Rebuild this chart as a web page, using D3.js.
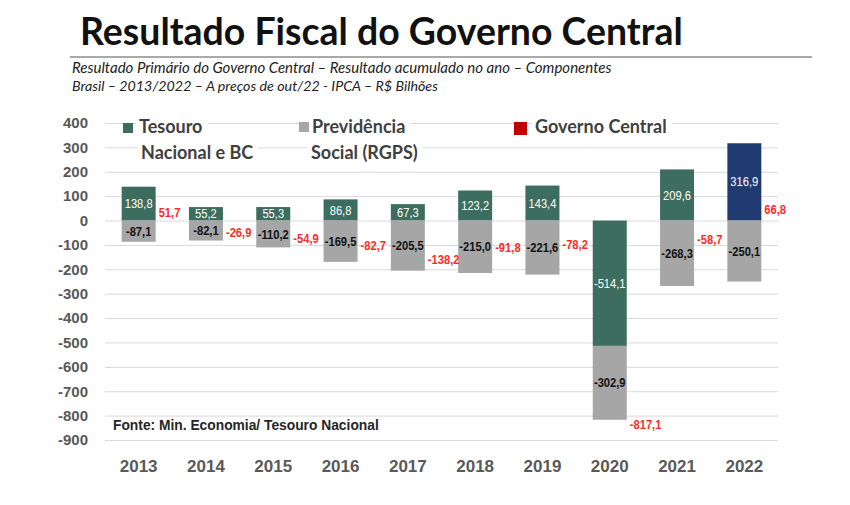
<!DOCTYPE html>
<html><head><meta charset="utf-8">
<script src="https://cdn.jsdelivr.net/npm/d3@7"></script>
<style>body{margin:0;background:#fff} svg{display:block}</style>
</head><body><svg id="chart" width="850" height="505"></svg>
<script>
// ---------- DATA ----------
const years = ["2013","2014","2015","2016","2017","2018","2019","2020","2021","2022"];
const tesouro = [138.8, 55.2, 55.3, 86.8, 67.3, 123.2, 143.4, -514.1, 209.6, 316.9];
const previdencia = [-87.1, -82.1, -110.2, -169.5, -205.5, -215.0, -221.6, -302.9, -268.3, -250.1];
const governoCentral = [51.7, -26.9, -54.9, -82.7, -138.2, -91.8, -78.2, -817.1, -58.7, 66.8];
const yTicks = [400, 300, 200, 100, 0, -100, -200, -300, -400, -500, -600, -700, -800, -900];
const seriesKeys = ["tesouro", "previdencia"];
const titleText = "Resultado Fiscal do Governo Central";
const subtitleLines = ["Resultado Primário do Governo Central –  Resultado acumulado no ano – Componentes",
                       "Brasil – 2013/2022 – A preços de out/22 - IPCA – R$ Bilhões"];
const sourceText = "Fonte: Min. Economia/ Tesouro Nacional";
const highlightYear = "2022";

// ---------- SETUP ----------
const svg = d3.select("#chart");
const pLeft = 105, pRight = 778, pTop = 123, pBottom = 440;
const C = { green: "#3d6d5e", navy: "#1f3b72", gray: "#a6a6a6", red: "#c00000", label: "#ff2b2b", axis: "#595959", grid: "#d9d9d9" };
const sans = "'Liberation Sans',Arial,sans-serif";
const cal = "Lato,'Open Sans',sans-serif";
const squeeze = 0.86; // condensed look for data labels

const fmt = d3.formatLocale({decimal: ",", thousands: ".", grouping: [3], currency: ["R$", ""], minus: "-"}).format(".1f");

const x = d3.scaleBand().domain(years).range([pLeft, pRight]).paddingInner(0.495).paddingOuter(0.2475);
const y = d3.scaleLinear().domain([-900, 400]).range([pBottom, pTop]);

function fitWidth(sel, target) {
  const w = sel.node().getComputedTextLength();
  const fs = parseFloat(sel.attr("font-size"));
  sel.attr("font-size", fs * target / w);
  return fs * target / w;
}

// ---------- TITLE ----------
const title = svg.append("text").attr("x", 80).attr("y", 45)
  .attr("font-family", cal).attr("font-weight", 700).attr("font-size", 36)
  .attr("fill", "#111").text(titleText);
fitWidth(title, 603);
svg.append("line").attr("x1", 70).attr("x2", 812).attr("y1", 57).attr("y2", 57)
  .attr("stroke", "#8c8c8c").attr("stroke-width", 1.6);
const sub1 = svg.append("text").attr("x", 72).attr("y", 73)
  .attr("font-family", cal).attr("font-style", "italic").attr("font-size", 13)
  .attr("fill", "#222").text(subtitleLines[0]);
fitWidth(sub1, 540);
const sub2 = svg.append("text").attr("x", 72).attr("y", 91)
  .attr("font-family", cal).attr("font-style", "italic").attr("font-size", 13)
  .attr("fill", "#222").text(subtitleLines[1]);
fitWidth(sub2, 366);

// ---------- GRID ----------
const grid = svg.append("g").attr("transform", `translate(${pLeft},0)`)
  .call(d3.axisLeft(y).tickValues(yTicks).tickSize(-(pRight - pLeft)).tickFormat(""));
grid.select(".domain").remove();
grid.selectAll("line").attr("stroke", C.grid).attr("stroke-width", 1);

// ---------- Y AXIS LABELS ----------
const yAx = svg.append("g").attr("transform", `translate(${pLeft},0)`)
  .call(d3.axisLeft(y).tickValues(yTicks).tickSize(0).tickPadding(17).tickFormat(d3.format("d")));
yAx.select(".domain").remove();
yAx.selectAll("text").attr("font-family", sans).attr("font-weight", 700).attr("font-size", 15)
  .attr("fill", C.axis).text(d => String(d));

// ---------- LEGEND ----------
const legend = svg.append("g");
const legendItems = [
  { color: C.green, sq: [123, 123, 10, 10], lines: [["Tesouro", 139, 133], ["Nacional e BC", 141, 159]] },
  { color: C.gray, sq: [299, 122, 10, 10], lines: [["Previdência", 312, 133], ["Social (RGPS)", 311, 159]] },
  { color: C.red, sq: [514, 122, 13, 13], lines: [["Governo Central", 535, 133]] }
];
legendItems.forEach(it => {
  it.lines.forEach(([t, lx, ly]) => {
    const bg = legend.append("rect").attr("fill", "#fff");
    const tx = legend.append("text").attr("x", lx).attr("y", ly)
      .attr("font-family", cal).attr("font-weight", 700).attr("font-size", 18)
      .attr("fill", "#404040").text(t);
    const b = tx.node().getBBox();
    bg.attr("x", b.x - 3).attr("y", b.y).attr("width", b.width + 8).attr("height", b.height);
  });
  legend.append("rect").attr("x", it.sq[0]).attr("y", it.sq[1]).attr("width", it.sq[2]).attr("height", it.sq[3]).attr("fill", it.color);
});

// ---------- BARS ----------
const rows = years.map((yr, i) => ({ year: yr, tesouro: tesouro[i], previdencia: previdencia[i] }));
const stacked = d3.stack().keys(seriesKeys).offset(d3.stackOffsetDiverging)(rows);
const colorOf = (key, yr) => key === "previdencia" ? C.gray : (yr === highlightYear ? C.navy : C.green);

const layers = svg.append("g").selectAll("g").data(stacked).join("g");
layers.selectAll("rect").data(s => s.map(d => ({ key: s.key, d }))).join("rect")
  .attr("x", e => x(e.d.data.year))
  .attr("width", x.bandwidth())
  .attr("y", e => y(Math.max(e.d[0], e.d[1])))
  .attr("height", e => Math.abs(y(e.d[0]) - y(e.d[1])))
  .attr("fill", e => colorOf(e.key, e.d.data.year));

layers.selectAll("text").data(s => s.map(d => ({ key: s.key, d }))).join("text")
  .attr("transform", e => `translate(${x(e.d.data.year) + x.bandwidth() / 2},${y((e.d[0] + e.d[1]) / 2)}) scale(${squeeze},1)`)
  .attr("dy", "0.35em")
  .attr("text-anchor", "middle")
  .attr("font-family", sans).attr("font-size", 13)
  .attr("font-weight", e => e.key === "previdencia" ? 700 : 400)
  .attr("fill", e => e.key === "previdencia" ? "#111" : "#fff")
  .text(e => fmt(e.d.data[e.key]));

// ---------- GOVERNO CENTRAL LABELS ----------
svg.append("g").selectAll("text").data(years).join("text")
  .attr("transform", (yr, i) => `translate(${x(yr) + x.bandwidth() + 3},${y(governoCentral[i]) + 5}) scale(${squeeze},1)`)
  .attr("dy", "0.35em")
  .attr("font-family", sans).attr("font-weight", 700).attr("font-size", 13)
  .attr("fill", C.label)
  .text((yr, i) => fmt(governoCentral[i]));

// ---------- X AXIS ----------
const xAx = svg.append("g").attr("transform", `translate(0,${pBottom})`)
  .call(d3.axisBottom(x).tickSize(0).tickPadding(20));
xAx.select(".domain").remove();
xAx.selectAll("text").attr("font-family", sans).attr("font-weight", 700).attr("font-size", 17).attr("fill", C.axis);

// ---------- SOURCE ----------
const src = svg.append("text").attr("x", 113).attr("y", 430)
  .attr("font-family", sans).attr("font-weight", 700).attr("font-size", 12.5)
  .attr("fill", "#262626").text(sourceText);
fitWidth(src, 266);
</script></body></html>
